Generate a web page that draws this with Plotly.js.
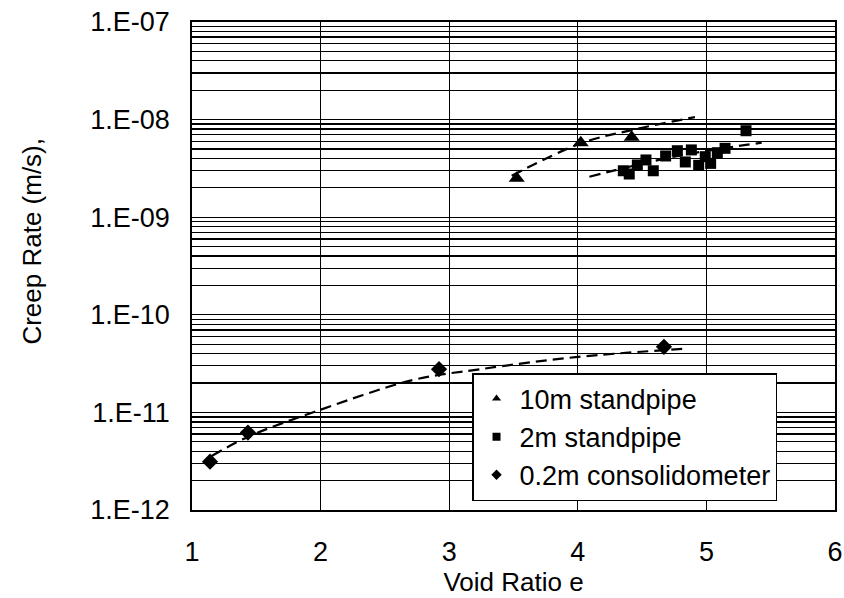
<!DOCTYPE html>
<html>
<head>
<meta charset="utf-8">
<script src="https://cdn.plot.ly/plotly-3.0.1.min.js"></script>
<style>html,body{margin:0;padding:0;background:#fff;}#chart{width:844px;height:598px;}</style>
</head>
<body>
<div id="chart"></div>
<script>
// ---- data ----
const voidRatio10m = [3.525, 4.023, 4.419];
const creep10m = [2.51e-9, 5.80e-9, 6.59e-9];

const voidRatio2m = [4.354, 4.400, 4.463, 4.530, 4.587, 4.683, 4.774, 4.836, 4.883, 4.940, 4.991, 5.033, 5.085, 5.145, 5.308];
const creep2m = [2.99e-9, 2.77e-9, 3.43e-9, 3.86e-9, 2.99e-9, 4.24e-9, 4.80e-9, 3.68e-9, 4.89e-9, 3.40e-9, 4.17e-9, 3.56e-9, 4.58e-9, 5.08e-9, 7.69e-9];

const voidRatioCons = [1.14, 1.435, 2.921, 4.67];
const creepCons = [3.13e-12, 6.22e-12, 2.77e-11, 4.7e-11];

// trend lines
const trend10mX = [3.486, 4.023, 4.419, 4.911];
const trend10mY = [2.66e-9, 5.71e-9, 7.81e-9, 1.06e-8];
const trend2mX = [4.090, 4.76, 5.430];
const trend2mY = [2.60e-9, 4.2e-9, 5.80e-9];
const trendConsX = [1.153, 1.438, 1.995, 2.721, 3.24, 4.0, 4.85];
const trendConsY = [3.57e-12, 5.64e-12, 1.06e-11, 2.15e-11, 2.77e-11, 3.7e-11, 4.5e-11];

const seriesNames = ['10m standpipe', '2m standpipe', '0.2m consolidometer'];
const seriesSymbols = ['triangle-up', 'square', 'diamond'];
const decadeExponents = [-12, -11, -10, -9, -8, -7];
const decadeLabels = ['1.E-12', '1.E-11', '1.E-10', '1.E-09', '1.E-08', '1.E-07'];
const xTickValues = [1, 2, 3, 4, 5, 6];

// y grid at every 1..9 x 10^n, labels only on decades
const yTickVals = [], yTickText = [];
decadeExponents.forEach((e, i) => {
  const maxK = (i === decadeExponents.length - 1) ? 1 : 9;
  for (let k = 1; k <= maxK; k++) {
    yTickVals.push(k * Math.pow(10, e));
    yTickText.push(k === 1 ? decadeLabels[i] : '');
  }
});

const FONT = 'Liberation Sans, Arial, sans-serif';
const dashStyle = {color: '#000', width: 2.2, dash: '11px,6px', shape: 'spline'};

const traces = [
  {x: voidRatio10m, y: creep10m, name: seriesNames[0], mode: 'markers', type: 'scatter', showlegend: false,
   marker: {symbol: seriesSymbols[0], size: 14, color: '#000'}},
  {x: voidRatio2m, y: creep2m, name: seriesNames[1], mode: 'markers', type: 'scatter', showlegend: false,
   marker: {symbol: seriesSymbols[1], size: 11, color: '#000'}},
  {x: voidRatioCons, y: creepCons, name: seriesNames[2], mode: 'markers', type: 'scatter', showlegend: false,
   marker: {symbol: seriesSymbols[2], size: 12.5, color: '#000'}},
  {x: trend10mX, y: trend10mY, mode: 'lines', type: 'scatter', showlegend: false, line: dashStyle, hoverinfo: 'skip'},
  {x: trend2mX, y: trend2mY, mode: 'lines', type: 'scatter', showlegend: false, line: dashStyle, hoverinfo: 'skip'},
  {x: trendConsX, y: trendConsY, mode: 'lines', type: 'scatter', showlegend: false, line: dashStyle, hoverinfo: 'skip'}
];
// legend entries (small symbols, as in the reference legend)
seriesNames.forEach((n, i) => {
  traces.push({x: [null], y: [null], name: n, mode: 'markers', type: 'scatter', showlegend: true,
    marker: {symbol: seriesSymbols[i], size: 8, color: '#000'}});
});

const layout = {
  width: 844, height: 598,
  margin: {l: 192, r: 9, t: 22, b: 88},
  paper_bgcolor: '#fff', plot_bgcolor: '#fff',
  font: {family: FONT, color: '#000', size: 27},
  showlegend: true,
  legend: {
    x: 0.4355, y: 0.0184, xanchor: 'left', yanchor: 'bottom',
    bgcolor: '#fff', bordercolor: '#000', borderwidth: 1.5,
    font: {family: FONT, size: 27, color: '#000'},
    itemwidth: 36, itemsizing: 'trace'
  },
  xaxis: {
    type: 'linear', range: [1, 6], tickvals: xTickValues,
    showgrid: true, gridcolor: '#000', gridwidth: 1,
    zeroline: false, showline: true, linecolor: '#000', linewidth: 1.8, mirror: true,
    ticks: '', ticklabelstandoff: 17,
    tickfont: {family: FONT, size: 27, color: '#000'},
    title: {text: 'Void Ratio e', font: {family: FONT, size: 26, color: '#000'}, standoff: 5}
  },
  yaxis: {
    type: 'log', range: [-12, -7], tickvals: yTickVals, ticktext: yTickText,
    showgrid: true, gridcolor: '#000', gridwidth: 1.3,
    zeroline: false, showline: true, linecolor: '#000', linewidth: 1.8, mirror: true,
    ticks: 'inside', ticklen: 4, tickcolor: '#000',
    ticklabelstandoff: 15,
    tickfont: {family: FONT, size: 27, color: '#000'}
  },
  annotations: [{
    text: 'Creep Rate (m/s),', xref: 'paper', yref: 'paper',
    x: -0.2488, y: 0.55, xanchor: 'center', yanchor: 'middle',
    textangle: -90, showarrow: false,
    font: {family: FONT, size: 26, color: '#000'}
  }]
};

Plotly.newPlot('chart', traces, layout, {displayModeBar: false, staticPlot: true});
</script>
</body>
</html>
